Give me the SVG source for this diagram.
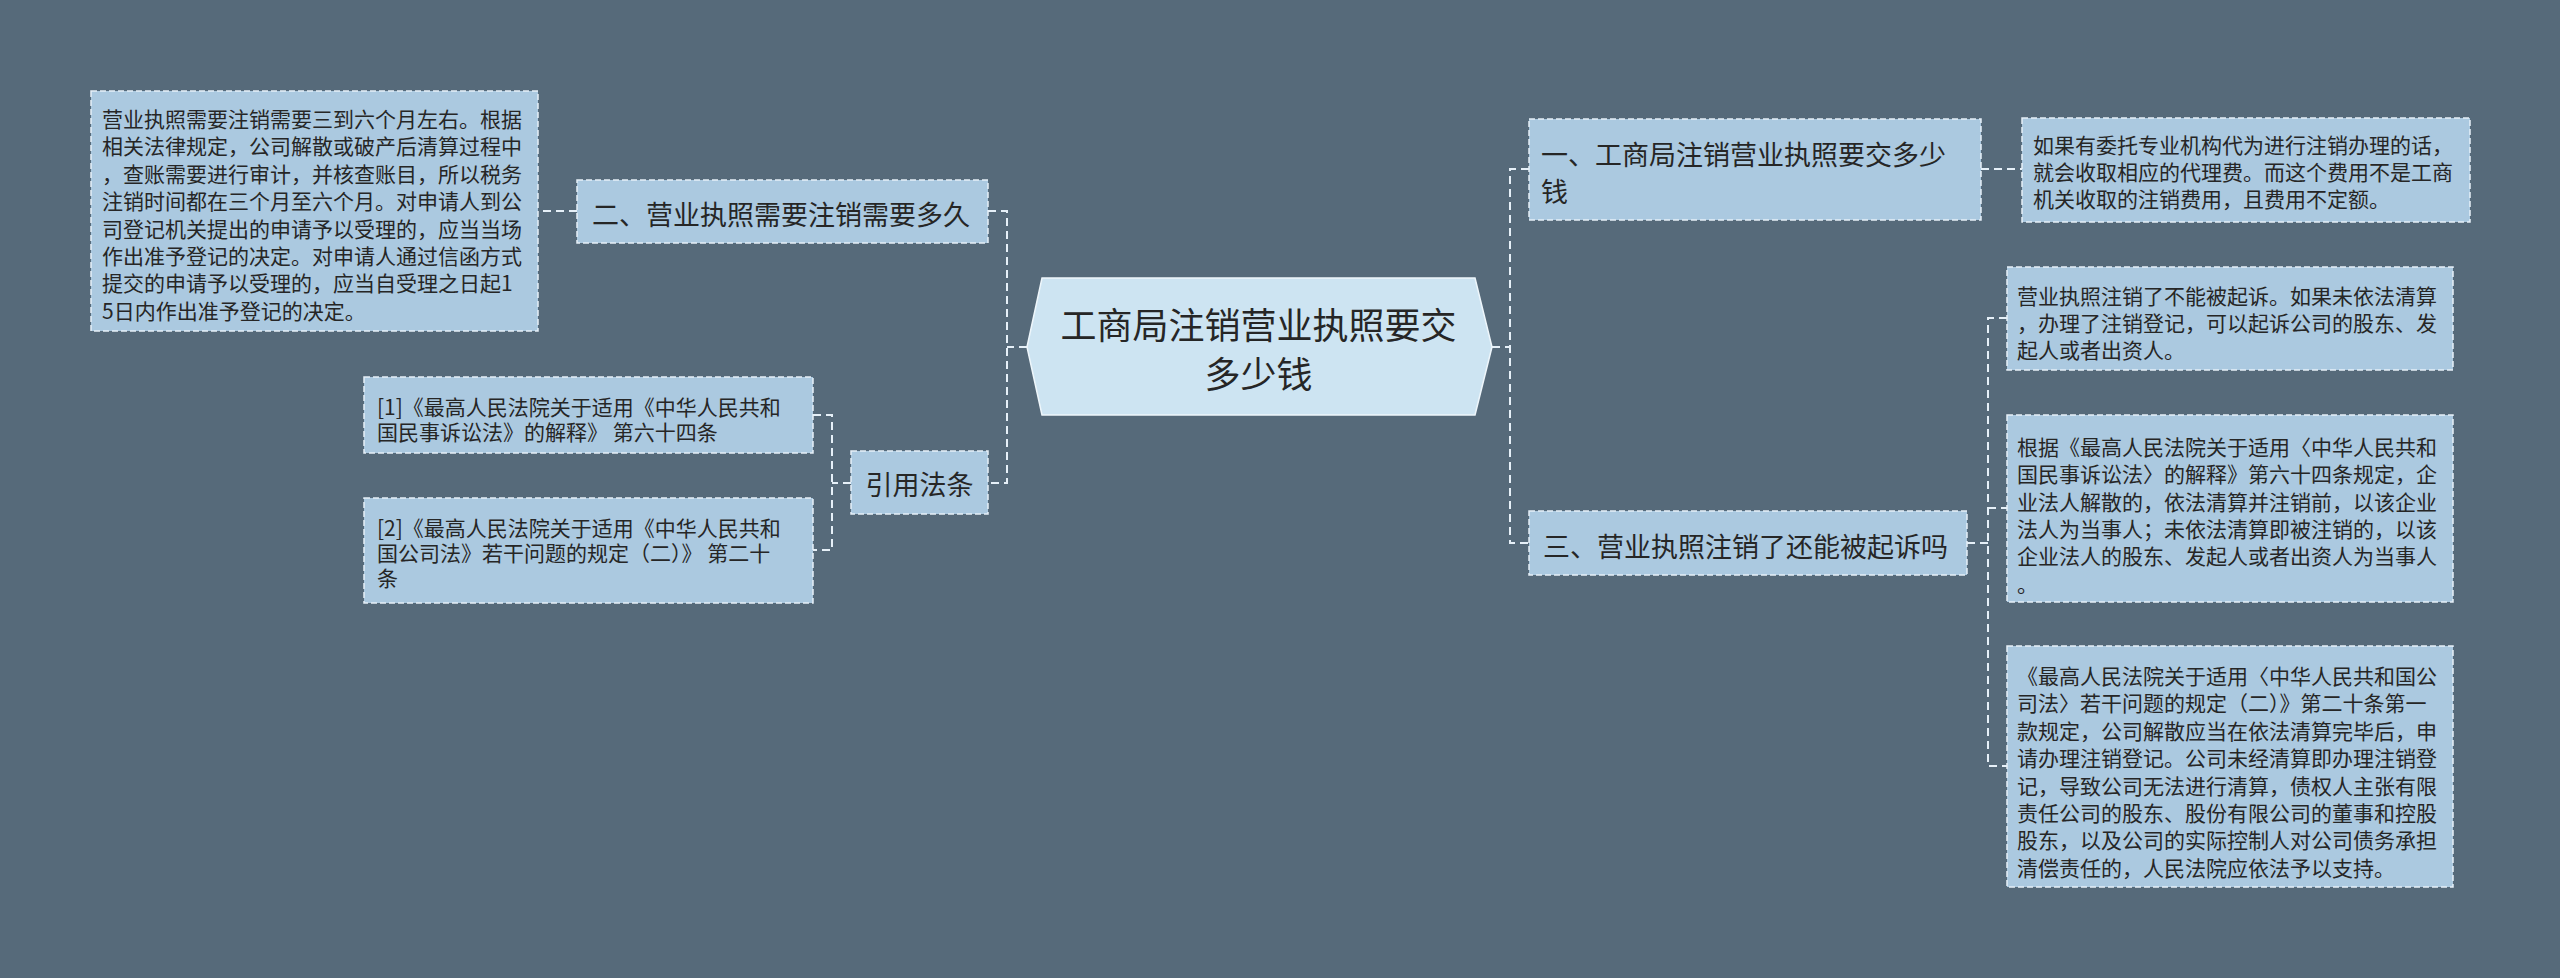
<svg xmlns="http://www.w3.org/2000/svg" width="2560" height="978" viewBox="0 0 2560 978">
<style>
.bg{fill:#566a7a}
.node{fill:#abc9e0;stroke:#e6f0f8;stroke-width:1.5;stroke-dasharray:6 3}
.root{fill:#cde4f2;stroke:#eef6fb;stroke-width:1.5}
.conn{fill:none;stroke:#e6f0f8;stroke-width:2;stroke-dasharray:8 5}
text{font-family:"Noto Sans CJK SC","Noto Sans",sans-serif;fill:#262626;dominant-baseline:central}
.t27{font-size:27px}
.t21{font-size:21px}
.t36{font-size:36px}
</style>
<rect class="bg" x="0" y="0" width="2560" height="978"/>
<g id="connectors">
<path class="conn" d="M988,211 H1007 V483 H988"/>
<path class="conn" d="M1027,347 H1007"/>
<path class="conn" d="M577,211 H538"/>
<path class="conn" d="M813,415 H832 V550 H813"/>
<path class="conn" d="M851,483 H832"/>
<path class="conn" d="M1529,169 H1510 V543 H1529"/>
<path class="conn" d="M1492,347 H1510"/>
<path class="conn" d="M1981,169 H2022"/>
<path class="conn" d="M2007,318 H1988 V766 H2007"/>
<path class="conn" d="M1967,543 H1988"/>
<path class="conn" d="M1988,508 H2007"/>
</g>
<g id="root">
<polygon class="root" points="1027,347 1042,278 1475,278 1492,347 1475,415 1042,415"/>
<text class="t36" x="1258.5" y="323" text-anchor="middle">工商局注销营业执照要交</text>
<text class="t36" x="1258.5" y="372" text-anchor="middle">多少钱</text>
</g>
<g id="n2">
<rect class="node" x="577" y="180" width="411" height="63"/>
<text class="t27" x="592" y="213">二、营业执照需要注销需要多久</text>
</g>
<g id="n2detail">
<rect class="node" x="91" y="91" width="447" height="240"/>
<text class="t21" x="102" y="118">营业执照需要注销需要三到六个月左右。根据</text>
<text class="t21" x="102" y="145.4">相关法律规定，公司解散或破产后清算过程中</text>
<text class="t21" x="102" y="172.8">，查账需要进行审计，并核查账目，所以税务</text>
<text class="t21" x="102" y="200.2">注销时间都在三个月至六个月。对申请人到公</text>
<text class="t21" x="102" y="227.6">司登记机关提出的申请予以受理的，应当当场</text>
<text class="t21" x="102" y="255">作出准予登记的决定。对申请人通过信函方式</text>
<text class="t21" x="102" y="282.4">提交的申请予以受理的，应当自受理之日起1</text>
<text class="t21" x="102" y="309.8">5日内作出准予登记的决定。</text>
</g>
<g id="nref">
<rect class="node" x="851" y="451" width="137" height="63"/>
<text class="t27" x="919.5" y="483" text-anchor="middle">引用法条</text>
</g>
<g id="ref1">
<rect class="node" x="364" y="377" width="449" height="76"/>
<text class="t21" x="377" y="406">[1]《最高人民法院关于适用《中华人民共和</text>
<text class="t21" x="377" y="431">国民事诉讼法》的解释》 第六十四条</text>
</g>
<g id="ref2">
<rect class="node" x="364" y="498" width="449" height="105"/>
<text class="t21" x="377" y="527">[2]《最高人民法院关于适用《中华人民共和</text>
<text class="t21" x="377" y="552">国公司法》若干问题的规定（二）》 第二十</text>
<text class="t21" x="377" y="577">条</text>
</g>
<g id="n1">
<rect class="node" x="1529" y="119" width="452" height="101"/>
<text class="t27" x="1541" y="153">一、工商局注销营业执照要交多少</text>
<text class="t27" x="1541" y="190">钱</text>
</g>
<g id="n1detail">
<rect class="node" x="2022" y="118" width="448" height="104"/>
<text class="t21" x="2033" y="144">如果有委托专业机构代为进行注销办理的话，</text>
<text class="t21" x="2033" y="171">就会收取相应的代理费。而这个费用不是工商</text>
<text class="t21" x="2033" y="198">机关收取的注销费用，且费用不定额。</text>
</g>
<g id="n3">
<rect class="node" x="1529" y="511" width="438" height="64"/>
<text class="t27" x="1543" y="545">三、营业执照注销了还能被起诉吗</text>
</g>
<g id="n3d1">
<rect class="node" x="2007" y="267" width="446" height="103"/>
<text class="t21" x="2017" y="295">营业执照注销了不能被起诉。如果未依法清算</text>
<text class="t21" x="2017" y="322">，办理了注销登记，可以起诉公司的股东、发</text>
<text class="t21" x="2017" y="349">起人或者出资人。</text>
</g>
<g id="n3d2">
<rect class="node" x="2007" y="415" width="446" height="187"/>
<text class="t21" x="2017" y="446">根据《最高人民法院关于适用〈中华人民共和</text>
<text class="t21" x="2017" y="473.3">国民事诉讼法〉的解释》第六十四条规定，企</text>
<text class="t21" x="2017" y="500.6">业法人解散的，依法清算并注销前，以该企业</text>
<text class="t21" x="2017" y="527.9">法人为当事人；未依法清算即被注销的，以该</text>
<text class="t21" x="2017" y="555.2">企业法人的股东、发起人或者出资人为当事人</text>
<text class="t21" x="2017" y="582.5">。</text>
</g>
<g id="n3d3">
<rect class="node" x="2007" y="646" width="446" height="241"/>
<text class="t21" x="2017" y="675">《最高人民法院关于适用〈中华人民共和国公</text>
<text class="t21" x="2017" y="702.4">司法〉若干问题的规定（二）》第二十条第一</text>
<text class="t21" x="2017" y="729.8">款规定，公司解散应当在依法清算完毕后，申</text>
<text class="t21" x="2017" y="757.2">请办理注销登记。公司未经清算即办理注销登</text>
<text class="t21" x="2017" y="784.6">记，导致公司无法进行清算，债权人主张有限</text>
<text class="t21" x="2017" y="812">责任公司的股东、股份有限公司的董事和控股</text>
<text class="t21" x="2017" y="839.4">股东，以及公司的实际控制人对公司债务承担</text>
<text class="t21" x="2017" y="866.8">清偿责任的，人民法院应依法予以支持。</text>
</g>
</svg>
